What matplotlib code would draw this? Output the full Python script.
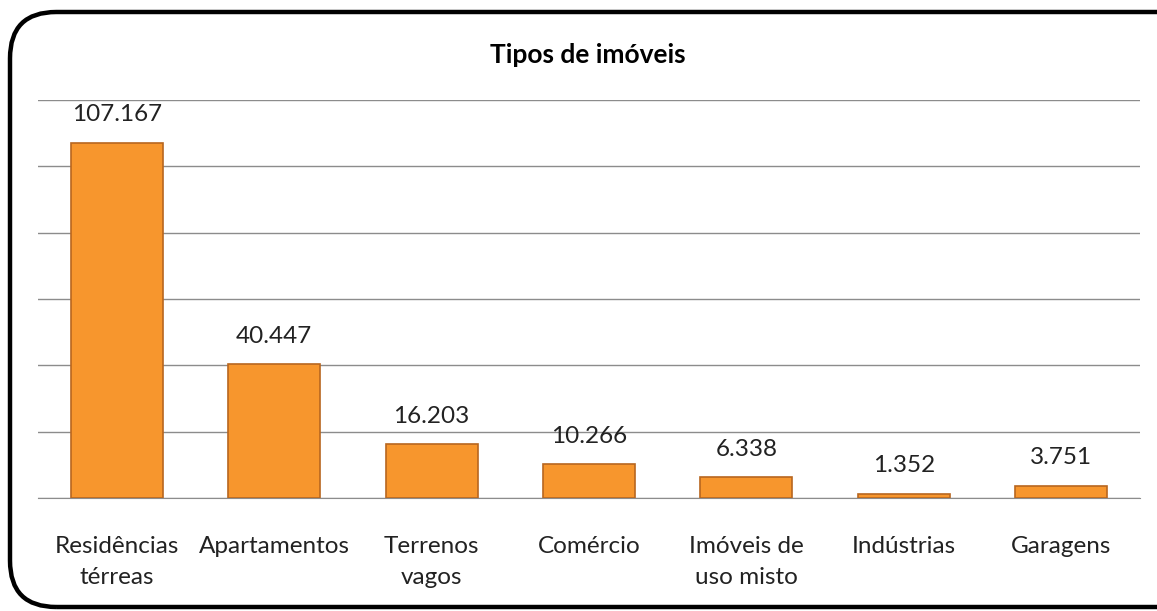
import numpy as np
import matplotlib
matplotlib.use("Agg")
import matplotlib.pyplot as plt
from matplotlib.patches import FancyBboxPatch

plt.rcParams['font.family'] = ['Lato', 'DejaVu Sans']

# dados
categorias = ["Residências\ntérreas", "Apartamentos", "Terrenos\nvagos", "Comércio",
              "Imóveis de\nuso misto", "Indústrias", "Garagens"]
valores = [107167, 40447, 16203, 10266, 6338, 1352, 3751]
rotulos = ["107.167", "40.447", "16.203", "10.266", "6.338", "1.352", "3.751"]
titulo = "Tipos de imóveis"

fig = plt.figure(figsize=(11.57, 6.11), dpi=100)
ax = fig.add_axes([38 / 1157, 1 - 498 / 611, (1140 - 38) / 1157, (498 - 100) / 611])

x = np.arange(len(valores))
barras = ax.bar(x, valores, width=0.585, color="#F7962D", edgecolor="#B8661F", linewidth=1.2, zorder=3)

for b, r in zip(barras, rotulos):
    ax.annotate(r, (b.get_x() + b.get_width() / 2, b.get_height()), xytext=(0, 20),
                textcoords="offset points", ha="center", va="center", fontsize=17.5, color="#222222")

ax.set_xlim(-0.5, len(valores) - 0.5)
ax.set_ylim(0, 120000)
ax.set_yticks(np.arange(0, 120001, 20000))
ax.yaxis.grid(True, color="#8c8c8c", linewidth=1)
ax.set_axisbelow(True)
ax.tick_params(axis="y", left=False, labelleft=False)
ax.tick_params(axis="x", bottom=False, pad=24)
ax.set_xticks(x)
ax.set_xticklabels(categorias, fontsize=17.5, color="#222222", linespacing=1.55, va="top")
for s in ["left", "right", "top"]:
    ax.spines[s].set_visible(False)
ax.spines["bottom"].set_color("#8c8c8c")

fig.text(588 / 1157, 1 - 55 / 611, titulo, ha="center", va="center", fontsize=19, fontweight="bold")

borda = FancyBboxPatch((10 / 1157, 4 / 611), 1.05, 1 - 16 / 611, boxstyle="round,pad=0,rounding_size=0.04",
                       transform=fig.transFigure, fill=False, edgecolor="black", linewidth=3.2,
                       mutation_aspect=1157 / 611)
fig.patches.append(borda)

fig.savefig("out.png", dpi=100)
